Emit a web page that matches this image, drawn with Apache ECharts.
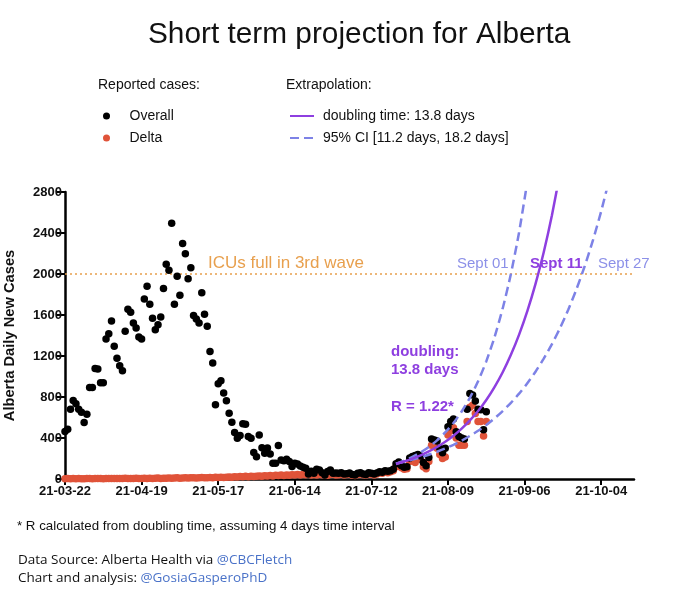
<!DOCTYPE html>
<html>
<head>
<meta charset="utf-8">
<script src="https://cdn.jsdelivr.net/npm/echarts@6/dist/echarts.min.js"></script>
<style>
  html, body { margin: 0; padding: 0; background: #fff; }
  #chart { width: 680px; height: 596px; }
</style>
</head>
<body>
<div id="chart"></div>
<script>
// day 0 = 2021-03-22, one value per day
var startDate = [2021, 2, 22];
var xTicks = [0, 28, 56, 84, 112, 140, 168, 196];

var overall = [
  463, 486, 681, 766, 733, 681, 652, 551, 632, 893,
  893, 1079, 1072, 939, 939, 1366, 1418, 1542, 1294,
  1177, 1105, 1056, 1441, 1656, 1627, 1522, 1473, 1385, 1366,
  1757, 1881, 1705, 1568, 1457, 1506, 1581, 1858, 2096, 2037,
  2494, 1705, 1979, 1793, 2298, 2197, 1953, 2060, 1594, 1562,
  1522, 1816, 1607, 1490, 1245, 1131, 724, 929, 958, 838,
  763, 642, 554, 453, 398, 424, 538, 535, 414, 398,
  258, 218, 430, 306, 251, 303, 245, 153, 153, 326,
  186, 179, 192, 170, 121, 153, 147, 127, 114, 104,
  49, 75, 55, 95, 88, 62, 39, 72, 88, 55, 58,
  55, 60, 48, 52, 58, 45, 40, 55, 62, 50,
  45, 60, 55, 48, 58, 70, 65, 80, 75, 80,
  95, 150, 165, 130, 115, 120, 205, 220, 230, 240,
  225, 160, 130, 210, 390, 380, 370, 300, 255, 300,
  510, 560, 585, 460, 415, 400, 390, 680, 835, 820,
  760, 680, 675, 480, 655
];

var delta = [
  3, 4, 2, 5, 3, 4, 2, 3, 5, 4,
  3, 5, 4, 6, 3, 5, 4, 6, 5, 4,
  6, 5, 7, 4, 6, 5, 8, 6, 5, 7,
  6, 8, 5, 7, 9, 6, 8, 7, 10, 8,
  9, 11, 8, 10, 12, 9, 11, 13, 10, 12,
  14, 11, 13, 15, 12, 16, 14, 18, 15, 17,
  20, 18, 22, 19, 24, 21, 26, 23, 28, 25,
  27, 30, 26, 32, 29, 34, 30, 36, 33, 38,
  35, 40, 37, 42, 39, 44, 40, 45, 42, 46,
  38, 44, 40, 48, 42, 45, 36, 44, 47, 40,
  42, 46, 38, 44, 48, 37, 35, 45, 50, 42,
  38, 50, 46, 40, 50, 60, 55, 68, 62, 70,
  80, 120, 140, 110, 95, 100, 170, 190, 160, 200,
  190, 120, 100, 170, 330, 320, 300, 240, 200, 215,
  430, 470, 500, 400, 330, 330, 330, 560, 700, 720,
  640, 560, 560, 420, 560
];

// projection curves, [day, cases]
var projDays = [121, 124, 127, 130, 133, 136, 139, 142, 145, 148, 151, 154, 157, 160, 163, 166, 169, 172, 175, 178, 181];
var projMid = [147, 171, 199, 231, 269, 312, 363, 422, 491, 571, 663, 771, 897, 1042, 1212, 1409, 1638, 1904, 2213, 2573, 2991];
var upperDays = [121, 124, 127, 130, 133, 136, 139, 142, 145, 148, 151, 154, 157, 160, 163, 166, 169];
var projUpper = [149, 179, 216, 260, 313, 377, 454, 546, 658, 792, 953, 1148, 1382, 1664, 2000, 2408, 2900];
var lowerDays = [121, 124, 127, 130, 133, 136, 139, 142, 145, 148, 151, 154, 157, 160, 163, 166, 169, 172, 175, 178, 181, 184, 187, 190, 193, 196, 199];
var projLower = [150, 168, 189, 211, 237, 266, 298, 334, 374, 420, 470, 527, 591, 663, 743, 833, 934, 1047, 1174, 1316, 1475, 1654, 1854, 2078, 2330, 2612, 2928];

var icuLevel = 2000;

(function(window){
    var font = '"Liberation Sans", Arial, Helvetica, sans-serif';
    var purple = '#8E3FE0',
        periwinkle = '#7D82E6',
        red = '#E05339',
        orange = '#E8A04E';

    function pad(n){
        return n < 10 ? '0' + n : '' + n;
    }
    function dayLabel(d){
        var dt = new Date(startDate[0], startDate[1], startDate[2] + d);
        return pad(dt.getFullYear() % 100) + '-' + pad(dt.getMonth() + 1) + '-' + pad(dt.getDate());
    }
    function toPoints(days, vals){
        return vals.map(function(v, i){ return [days ? days[i] : i, v]; });
    }

    function init(){
        var chart = echarts.init(document.getElementById('chart'), null, {renderer: 'canvas'});
        var option = {
            animation: false,
            backgroundColor: '#fff',
            textStyle: {fontFamily: font},
            title: {
                text: 'Short term projection for Alberta',
                left: 143, top: 15,
                textStyle: {fontFamily: font, fontSize: 29.8, fontWeight: 'normal', color: '#111'}
            },
            legend: [{
                data: ['Overall', 'Delta'],
                orient: 'vertical',
                left: 98, top: 100,
                icon: 'circle',
                itemWidth: 36, itemHeight: 7, itemGap: 0,
                selectedMode: false,
                textStyle: {fontFamily: font, fontSize: 14, color: '#111', lineHeight: 22}
            }, {
                data: ['doubling time: 13.8 days', '95% CI [11.2 days, 18.2 days]'],
                orient: 'vertical',
                left: 284, top: 100,
                itemWidth: 24, itemHeight: 10, itemGap: 0,
                selectedMode: false,
                itemStyle: {opacity: 0},
                textStyle: {fontFamily: font, fontSize: 14, color: '#111', lineHeight: 22, padding: [0, 0, 0, 4]}
            }],
            grid: {left: 65, right: 46, top: 192, bottom: 117, outerBoundsMode: 'none', containLabel: false},
            xAxis: {
                type: 'value',
                min: 0, max: 208, interval: 28,
                splitLine: {show: false},
                axisLine: {lineStyle: {color: '#000', width: 2.5}},
                axisTick: {length: 6, lineStyle: {color: '#000', width: 2}},
                axisLabel: {
                    formatter: function(v){ return xTicks.indexOf(v) >= 0 ? dayLabel(v) : ''; },
                    fontFamily: font, fontSize: 13, fontWeight: 'bold', color: '#111', margin: 6,
                    showMaxLabel: false
                }
            },
            yAxis: {
                type: 'value',
                min: 0, max: 2800, interval: 400,
                name: 'Alberta Daily New Cases',
                nameLocation: 'middle',
                nameGap: 48,
                nameTextStyle: {fontFamily: font, fontSize: 14.7, fontWeight: 'bold', color: '#111'},
                splitLine: {show: false},
                axisLine: {show: true, lineStyle: {color: '#000', width: 2.5}},
                axisTick: {show: true, length: 8, lineStyle: {color: '#000', width: 2}},
                axisLabel: {
                    formatter: function(v){ return String(v); },
                    fontFamily: font, fontSize: 13, fontWeight: 'bold', color: '#111', margin: 3
                }
            },
            series: [{
                name: 'ICU',
                type: 'line',
                data: [[0, icuLevel], [208, icuLevel]],
                symbol: 'none',
                lineStyle: {color: orange, width: 1.5, type: [2, 3]},
                silent: true,
                z: 1
            }, {
                name: 'Delta',
                type: 'scatter',
                data: toPoints(null, delta),
                symbolSize: 7.5,
                itemStyle: {color: red, opacity: 1},
                z: 3
            }, {
                name: 'Overall',
                type: 'scatter',
                data: toPoints(null, overall),
                symbolSize: 7.5,
                itemStyle: {color: '#000', opacity: 1},
                z: 4
            }, {
                name: '95% CI [11.2 days, 18.2 days]',
                type: 'line',
                data: toPoints(upperDays, projUpper),
                symbol: 'none',
                smooth: 0.2,
                itemStyle: {color: periwinkle},
                lineStyle: {color: periwinkle, width: 2.5, type: [9, 5]},
                z: 5
            }, {
                name: '95% CI [11.2 days, 18.2 days]',
                type: 'line',
                data: toPoints(lowerDays, projLower),
                symbol: 'none',
                smooth: 0.2,
                itemStyle: {color: periwinkle},
                lineStyle: {color: periwinkle, width: 2.5, type: [9, 5]},
                z: 5
            }, {
                name: 'doubling time: 13.8 days',
                type: 'line',
                data: toPoints(projDays, projMid),
                symbol: 'none',
                smooth: 0.2,
                itemStyle: {color: purple},
                lineStyle: {color: purple, width: 2.5},
                z: 6
            }],
            graphic: [
                {type: 'text', left: 98, top: 78, style: {text: 'Reported cases:', font: '14px ' + font, fill: '#111'}},
                {type: 'text', left: 286, top: 78, style: {text: 'Extrapolation:', font: '14px ' + font, fill: '#111'}},
                {type: 'text', left: 208, top: 255, z: 10, style: {text: 'ICUs full in 3rd wave', font: '17px ' + font, fill: orange}},
                {type: 'text', left: 457, top: 256, z: 10, style: {text: 'Sept 01', font: '15px ' + font, fill: '#8C90E8'}},
                {type: 'text', left: 530, top: 256, z: 10, style: {text: 'Sept 11', font: 'bold 15px ' + font, fill: purple}},
                {type: 'text', left: 598, top: 256, z: 10, style: {text: 'Sept 27', font: '15px ' + font, fill: '#8C90E8'}},
                {type: 'text', left: 391, top: 344, z: 10, style: {text: 'doubling:', font: 'bold 15px ' + font, fill: purple}},
                {type: 'text', left: 391, top: 362, z: 10, style: {text: '13.8 days', font: 'bold 15px ' + font, fill: purple}},
                {type: 'text', left: 391, top: 399, z: 10, style: {text: 'R = 1.22*', font: 'bold 15px ' + font, fill: purple}},
                {type: 'text', left: 17, top: 520, style: {text: '* R calculated from doubling time, assuming 4 days time interval', font: '13.3px ' + font, fill: '#111'}},
                {type: 'text', left: 18, top: 553, style: {
                    text: '{a|Data Source: Alberta Health via }{b|@CBCFletch}',
                    rich: {
                        a: {fontFamily: '"Open Sans", sans-serif', fontSize: 13.5, fill: '#111'},
                        b: {fontFamily: '"Open Sans", sans-serif', fontSize: 13.5, fill: '#4A72C8'}
                    }
                }},
                {type: 'text', left: 18, top: 571, style: {
                    text: '{a|Chart and analysis: }{b|@GosiaGasperoPhD}',
                    rich: {
                        a: {fontFamily: '"Open Sans", sans-serif', fontSize: 13.5, fill: '#111'},
                        b: {fontFamily: '"Open Sans", sans-serif', fontSize: 13.5, fill: '#4A72C8'}
                    }
                }}
            ]
        };
        chart.setOption(option);
    }

    init();
})(window);
</script>
</body>
</html>
